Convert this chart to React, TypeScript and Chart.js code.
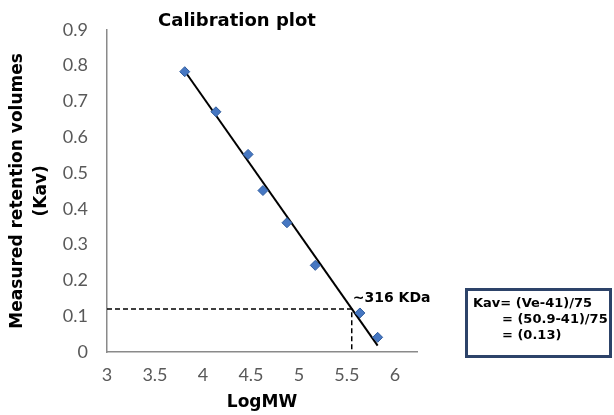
import React, { useEffect, useRef } from "react";
import { Chart, registerables } from "chart.js";

Chart.register(...registerables);

const logMW = [3.81, 4.135, 4.47, 4.625, 4.875, 5.17, 5.635, 5.82];
const kav = [0.783, 0.671, 0.552, 0.451, 0.361, 0.242, 0.109, 0.041];
const trendLogMW = [3.81, 5.82];
const trendKav = [0.785, 0.018];
const unknownLogMW = 5.55;
const unknownKav = 0.12;
const guideStartLogMW = 3.0;
const xTicks = [3, 3.5, 4, 4.5, 5, 5.5, 6];
const chartTitle = "Calibration plot";
const xTitle = "LogMW";
const yTitle = ["Measured retention volumes", "(Kav)"];
const pointLabel = "~316 KDa";
const formulaLines = ["Kav= (Ve-41)/75", "= (50.9-41)/75", "= (0.13)"];

const BOLD = "'DejaVu Sans', 'Liberation Sans', sans-serif";

const overlayPlugin = {
  id: "overlay",
  afterDraw(chart: any) {
    const ctx = chart.ctx as CanvasRenderingContext2D;
    const xs = chart.scales.x;
    const ys = chart.scales.y;
    ctx.save();
    // chart title
    ctx.fillStyle = "#000";
    ctx.font = `bold 18px ${BOLD}`;
    ctx.textAlign = "center";
    ctx.textBaseline = "middle";
    ctx.fillText(chartTitle, 237, 21);

    // point label
    ctx.font = `bold 14px ${BOLD}`;
    ctx.textAlign = "left";
    const px = xs.getPixelForValue(unknownLogMW);
    const py = ys.getPixelForValue(unknownKav);
    ctx.fillText(pointLabel, px + 1, py - 11);

    // formula box
    ctx.strokeStyle = "#2d4369";
    ctx.lineWidth = 3;
    ctx.strokeRect(466.5, 289.5, 144, 67);
    ctx.font = `bold 13px ${BOLD}`;
    ctx.fillStyle = "#000";
    ctx.fillText(formulaLines[0], 473, 304);
    ctx.fillText(formulaLines[1], 502, 320);
    ctx.fillText(formulaLines[2], 502, 336);
    ctx.restore();
  },
};

export default function App() {
  const ref = useRef<HTMLCanvasElement | null>(null);
  useEffect(() => {
    if (!ref.current) return;
    const chart = new Chart(ref.current, {
      type: "scatter",
      data: {
        datasets: [
          {
            label: "Standards",
            data: logMW.map((x, i) => ({ x, y: kav[i] })),
            pointStyle: "rectRot",
            pointRadius: 5,
            backgroundColor: "#4677c2",
            borderColor: "#2f5c9e",
            borderWidth: 1,
            showLine: false,
          },
          {
            label: "Trendline",
            data: trendLogMW.map((x, i) => ({ x, y: trendKav[i] })),
            showLine: true,
            borderColor: "#000",
            borderWidth: 2,
            pointRadius: 0,
          },
          {
            label: "Guide",
            data: [
              { x: guideStartLogMW, y: unknownKav },
              { x: unknownLogMW, y: unknownKav },
              { x: unknownLogMW, y: 0 },
            ],
            showLine: true,
            borderColor: "#000",
            borderWidth: 1.5,
            borderDash: [5, 3],
            pointRadius: 0,
          },
        ],
      },
      options: {
        animation: false,
        responsive: true,
        maintainAspectRatio: false,
        layout: { padding: { left: 0, right: 197, top: 20, bottom: 0 } },
        plugins: {
          legend: { display: false },
          tooltip: { enabled: false },
          title: { display: false },
        },
        scales: {
          x: {
            type: "linear",
            min: 3,
            max: 6.23,
            afterFit: (s: any) => {
              s.height = 63;
            },
            afterBuildTicks: (s: any) => {
              s.ticks = xTicks.map((v) => ({ value: v }));
            },
            grid: { display: true, drawOnChartArea: false, drawTicks: false },
            border: { display: true, color: "#8a8a8a", width: 1.5 },
            ticks: {
              padding: 12,
              color: "#595959",
              font: { family: "Lato", size: 18 },
              callback: (v: any) => String(v),
            },
            title: {
              display: true,
              text: xTitle,
              color: "#000",
              font: { family: BOLD, size: 17, weight: "bold" },
              padding: { top: 0, bottom: 2 },
            },
          },
          y: {
            type: "linear",
            min: 0,
            max: 0.9,
            afterFit: (s: any) => {
              s.width = 107;
            },
            grid: { display: true, drawOnChartArea: false, drawTicks: false },
            border: { display: true, color: "#8a8a8a", width: 1.5 },
            ticks: {
              stepSize: 0.1,
              padding: 19,
              color: "#595959",
              font: { family: "Lato", size: 18 },
            },
            title: {
              display: true,
              text: yTitle,
              color: "#000",
              font: { family: BOLD, size: 17, weight: "bold", lineHeight: 1.4 },
              padding: { top: 6, bottom: 0 },
            },
          },
        },
      },
      plugins: [overlayPlugin],
    } as any);
    return () => chart.destroy();
  }, []);
  return (
    <div style={{ position: "absolute", left: 0, top: 0, width: 614, height: 415, background: "#fff" }}>
      <canvas ref={ref} />
    </div>
  );
}
